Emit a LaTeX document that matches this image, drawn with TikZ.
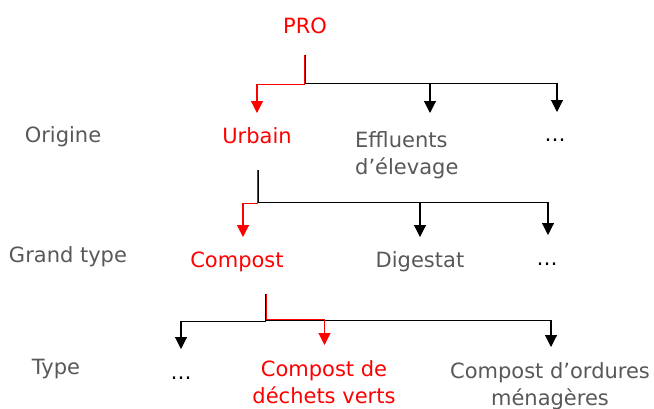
\documentclass[tikz,border=0pt]{standalone}
\usepackage{fontspec}
\setmainfont{DejaVu Sans}
\usetikzlibrary{arrows.meta}
\definecolor{txtgray}{RGB}{88,88,88}
\definecolor{pred}{RGB}{255,0,0}
\tikzset{
  lbl/.style={anchor=base, inner sep=0pt, text=txtgray, font=\fontsize{21}{27}\selectfont, align=center},
  sel/.style={anchor=base, inner sep=0pt, text=pred, font=\fontsize{21}{27}\selectfont, align=center},
  oth/.style={anchor=base, inner sep=0pt, text=txtgray, font=\fontsize{21}{27}\selectfont, align=left},
  dots/.style={anchor=base, inner sep=0pt, text=black, font=\fontsize{21}{27}\selectfont},
  blk/.style={draw=black, line width=1.1pt, -{Triangle[length=12pt,width=12pt]}},
  rd/.style={draw=pred, line width=1.1pt, -{Triangle[length=12pt,width=12pt]}},
}
\begin{document}
\begin{tikzpicture}[x=1pt,y=-1pt]
\useasboundingbox (0,0) rectangle (654,408);
% level labels
\node[lbl] (origine) at (63,142) {Origine};
\node[lbl] (grandtype) at (68,262) {Grand type};
\node[lbl] (type) at (56,374) {Type};
% nodes (multi-line nodes: base = last line)
\node[sel] (pro) at (305,33) {PRO};
\node[sel] (urbain) at (257,143) {Urbain};
\node[oth, anchor=base west] (effluents) at (355,174) {Effluents\\d’élevage};
\node[dots] (dots1) at (555,141) {…};
\node[sel] (compost) at (237,267) {Compost};
\node[lbl] (digestat) at (420,267) {Digestat};
\node[dots] (dots2) at (547,265) {…};
\node[dots] (dots3) at (181,379) {…};
\node[sel] (verts) at (324,403) {Compost de\\déchets verts};
\node[lbl] (ordures) at (550,405) {Compost d’ordures\\ménagères};
% stems and joints
\coordinate (pro-s) at (305.6,55);
\coordinate (pro-j) at (305.6,83.5);
\coordinate (pro-rs) at (304.6,55);
\coordinate (pro-rj) at (304.6,84.3);
\coordinate (urb-s) at (258.4,170);
\coordinate (urb-j) at (258.4,202.6);
\coordinate (urb-rs) at (257.5,170);
\coordinate (urb-rj) at (257.5,203.6);
\coordinate (cmp-s) at (265.6,294);
\coordinate (cmp-j) at (265.6,321.6);
\coordinate (cmp-rs) at (266.4,294);
\coordinate (cmp-rj) at (266.4,319.4);
\coordinate (cmp-bj) at (266.4,320.6);
% arrow ends
\coordinate (urbain-in) at (257,113);
\coordinate (eff-in) at (430,113);
\coordinate (dots1-in) at (557,112);
\coordinate (compost-in) at (243,237);
\coordinate (digestat-in) at (420,237);
\coordinate (dots2-in) at (548,235);
\coordinate (dots3-in) at (181,349);
\coordinate (verts-in) at (324.5,345);
\coordinate (ordures-in) at (551,347);
% PRO -> children
\draw[blk] (pro-s) -- (pro-j) -| (dots1-in);
\draw[blk] (pro-j) -| (eff-in);
\draw[rd] (pro-rs) -- (pro-rj) -| (urbain-in);
% Urbain -> children
\draw[blk] (urb-s) -- (urb-j) -| (dots2-in);
\draw[blk] (urb-j) -| (digestat-in);
\draw[rd] (urb-rs) -- (urb-rj) -| (compost-in);
% Compost -> children
\draw[blk] (cmp-s) -- (cmp-j) -| (dots3-in);
\draw[blk] (cmp-bj) -| (ordures-in);
\draw[rd] (cmp-rs) -- (cmp-rj) -| (verts-in);
\end{tikzpicture}
\end{document}
